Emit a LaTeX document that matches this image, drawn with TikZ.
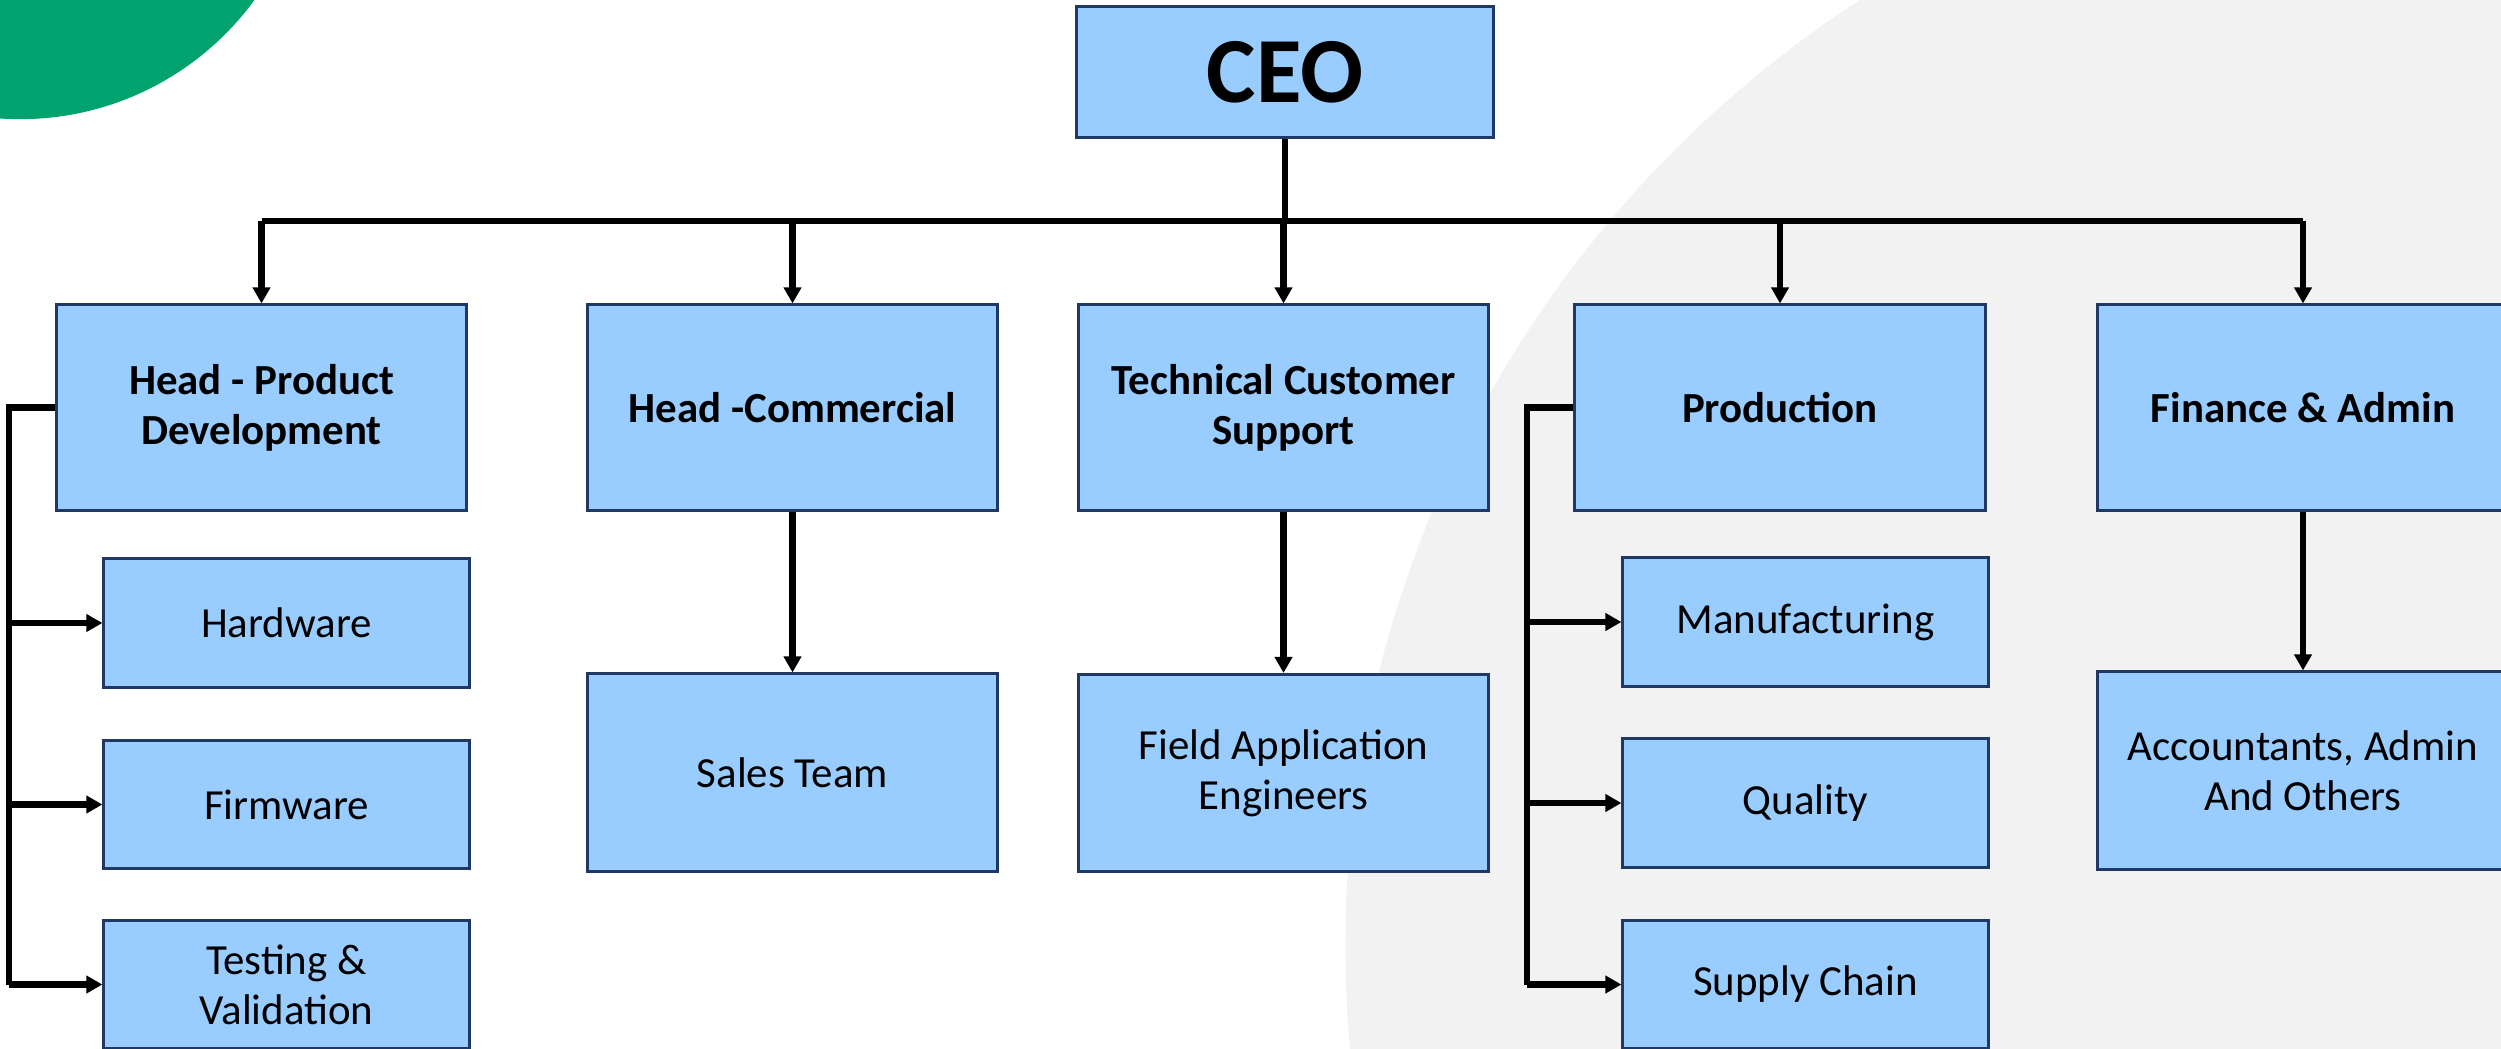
\documentclass[tikz,border=0pt]{standalone}
\usepackage{fontspec}
\setmainfont{Carlito}
\usetikzlibrary{arrows.meta}

\definecolor{boxfill}{HTML}{99CCFF}
\definecolor{boxline}{HTML}{1F3864}
\definecolor{leafgreen}{HTML}{00A26E}
\definecolor{backgray}{HTML}{F2F2F2}

\begin{document}
\begin{tikzpicture}[x = 0.01cm, y = -0.01cm,
		every node/.style = {draw = boxline, line width = 0.85pt, fill = boxfill,
			align = center, inner sep = 0pt, font = \fontsize{12.2}{14.2}\selectfont},
		top/.style = {minimum width = 4.16cm, minimum height = 1.3cm,
			font = \fontsize{26.5}{30}\selectfont\bfseries},
		head/.style = {minimum width = 4.1cm, minimum height = 2.05cm,
			font = \fontsize{12.2}{14.2}\selectfont\bfseries},
		team/.style = {minimum width = 4.1cm, minimum height = 1.97cm},
		unit/.style = {minimum width = 3.65cm, minimum height = 1.28cm},
		wire/.style = {line width = 1.8pt},
		feed/.style = {wire, -{Triangle[width = 0.17cm, length = 0.16cm]}}]
		\useasboundingbox (0, 0) rectangle (2501, 1049) ;
		\clip (0, 0) rectangle (2501, 1049) ;
		% backdrop
		\fill [backgray] (2472, 946) circle [radius = 11.26cm] ;
		\fill [leafgreen] (20, -171) circle [radius = 2.9cm] ;
		% boxes
		\node [top] (ceo) at (1285, 72) {CEO} ;
		\node [head] (hpd) at (261.5, 407.5) {Head - Product\\Development} ;
		\node [head] (hc) at (792.5, 407.5) {Head -Commercial} ;
		\node [head] (tcs) at (1283.5, 407.5) {Technical Customer\\Support} ;
		\node [head] (prod) at (1780, 407.5) {Production} ;
		\node [head] (fin) at (2303, 407.5) {Finance \& Admin} ;
		\node [unit] (hw) at (286.5, 623) {Hardware} ;
		\node [unit] (fw) at (286.5, 804.5) {Firmware} ;
		\node [unit] (tv) at (286.5, 984.5) {Testing \&\\Validation} ;
		\node [team] (sales) at (792.5, 772.5) {Sales Team} ;
		\node [team] (fae) at (1283.5, 773) {Field Application\\Engineers} ;
		\node [unit] (mfg) at (1805.5, 622) {Manufacturing} ;
		\node [unit] (qual) at (1805.5, 803) {Quality} ;
		\node [unit] (sc) at (1805.5, 984.5) {Supply Chain} ;
		\node [team] (acc) at (2303, 770.5) {Accountants, Admin\\And Others} ;
		% links
		\coordinate (bus) at (1285, 221) ;
		\coordinate (pdrail) at (9, 0) ;
		\coordinate (prrail) at (1527, 0) ;
		\draw [wire] (ceo.south) -- (bus) ;
		\draw [wire] (hpd.north |- bus) -- (fin.north |- bus) ;
		\foreach \n in {hpd, hc, tcs, prod, fin}
			\draw [feed] (\n.north |- bus) -- (\n.north) ;
		\draw [feed] (hc.south) -- (sales.north) ;
		\draw [feed] (tcs.south) -- (fae.north) ;
		\draw [feed] (fin.south) -- (acc.north) ;
		\draw [wire] (hpd.west) -| (pdrail |- tv.west) ;
		\foreach \n in {hw, fw, tv}
			\draw [feed] (pdrail |- \n.west) -- (\n.west) ;
		\draw [wire] (prod.west) -| (prrail |- sc.west) ;
		\foreach \n in {mfg, qual, sc}
			\draw [feed] (prrail |- \n.west) -- (\n.west) ;
	\end{tikzpicture}
\end{document}
